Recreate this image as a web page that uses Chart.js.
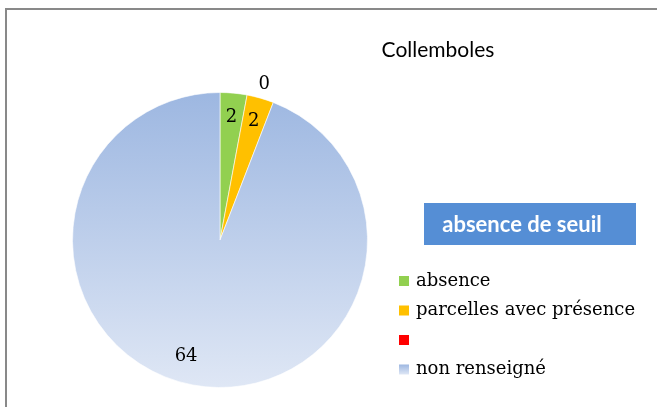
<!DOCTYPE html>
<html>
<head>
<meta charset="utf-8">
<script src="https://cdn.jsdelivr.net/npm/chart.js@4"></script>
<style>
  html, body { margin: 0; padding: 0; background: #fff; }
  canvas { display: block; }
</style>
</head>
<body>
<canvas id="chart" width="657" height="407"></canvas>
<script>
const title = 'Collemboles';
const boxText = 'absence de seuil';
const labels = ['absence', 'parcelles avec présence', '', 'non renseigné'];
const values = [2, 2, 0, 64];
const sliceColors = ['#92D050', '#FFC000', '#FF0000', 'gradient'];

// where each value label sits: fraction of radius, angle shift in degrees
const labelPlacement = [
    { f: 0.835, shift: 0 },
    { f: 0.835, shift: 0 },
    { f: 1.10, shift: -5.4 },
    { f: 0.82, shift: 5.7 }
];

const blueGradient = (ctx, top, bottom) => {
    const g = ctx.createLinearGradient(0, top, 0, bottom);
    g.addColorStop(0, '#9db7e1');
    g.addColorStop(1, '#dfe7f5');
    return g;
};

const fillFor = (chart, i, top, bottom) => {
    if (sliceColors[i] !== 'gradient') return sliceColors[i];
    return blueGradient(chart.ctx, top, bottom);
};

const decorPlugin = {
    id: 'decor',
    beforeDraw(chart) {
        const ctx = chart.ctx;
        ctx.save();
        ctx.fillStyle = '#fff';
        ctx.fillRect(0, 0, chart.width, chart.height);
        // frame, cut off at right and bottom
        ctx.fillStyle = '#898989';
        ctx.fillRect(5, 8, chart.width, 2);
        ctx.fillRect(5, 8, 2, chart.height);
        ctx.restore();
    },
    afterDraw(chart) {
        const ctx = chart.ctx;
        const meta = chart.getDatasetMeta(0);
        ctx.save();

        // title
        ctx.fillStyle = '#000';
        ctx.font = '21px Lato';
        ctx.textAlign = 'center';
        ctx.textBaseline = 'middle';
        ctx.fillText(title, 438, 50);

        // value labels
        ctx.font = '18px "DejaVu Serif"';
        meta.data.forEach((arc, i) => {
            const p = labelPlacement[i];
            const mid = (arc.startAngle + arc.endAngle) / 2 + p.shift * Math.PI / 180;
            const r = arc.outerRadius * p.f;
            ctx.fillText(String(values[i]), arc.x + Math.cos(mid) * r, arc.y + Math.sin(mid) * r);
        });

        // blue box
        ctx.fillStyle = '#558ed5';
        ctx.fillRect(424, 203, 212, 42);
        ctx.fillStyle = '#fff';
        ctx.font = 'bold 22px Lato';
        ctx.fillText(boxText, 522, 225);

        // legend
        ctx.textAlign = 'left';
        ctx.font = '18px "DejaVu Serif"';
        labels.forEach((lab, i) => {
            const y = 281 + i * 29.5;
            ctx.fillStyle = fillFor(chart, i, y - 5, y + 5);
            ctx.fillRect(399, y - 5, 10, 10);
            ctx.fillStyle = '#000';
            ctx.fillText(lab, 416, y);
        });
        ctx.restore();
    }
};

new Chart(document.getElementById('chart'), {
    type: 'pie',
    data: {
        labels: labels,
        datasets: [{
            data: values,
            backgroundColor: (c) => {
                const area = c.chart.chartArea;
                if (!area) return '#b5c8ea';
                return fillFor(c.chart, c.dataIndex, area.top, area.bottom);
            },
            borderColor: 'rgba(255,255,255,0.6)',
            borderWidth: 1
        }]
    },
    options: {
        responsive: false,
        animation: false,
        layout: { padding: { left: 72, top: 92, right: 289, bottom: 19 } },
        plugins: {
            legend: { display: false },
            tooltip: { enabled: false }
        }
    },
    plugins: [decorPlugin]
});
</script>
</body>
</html>
